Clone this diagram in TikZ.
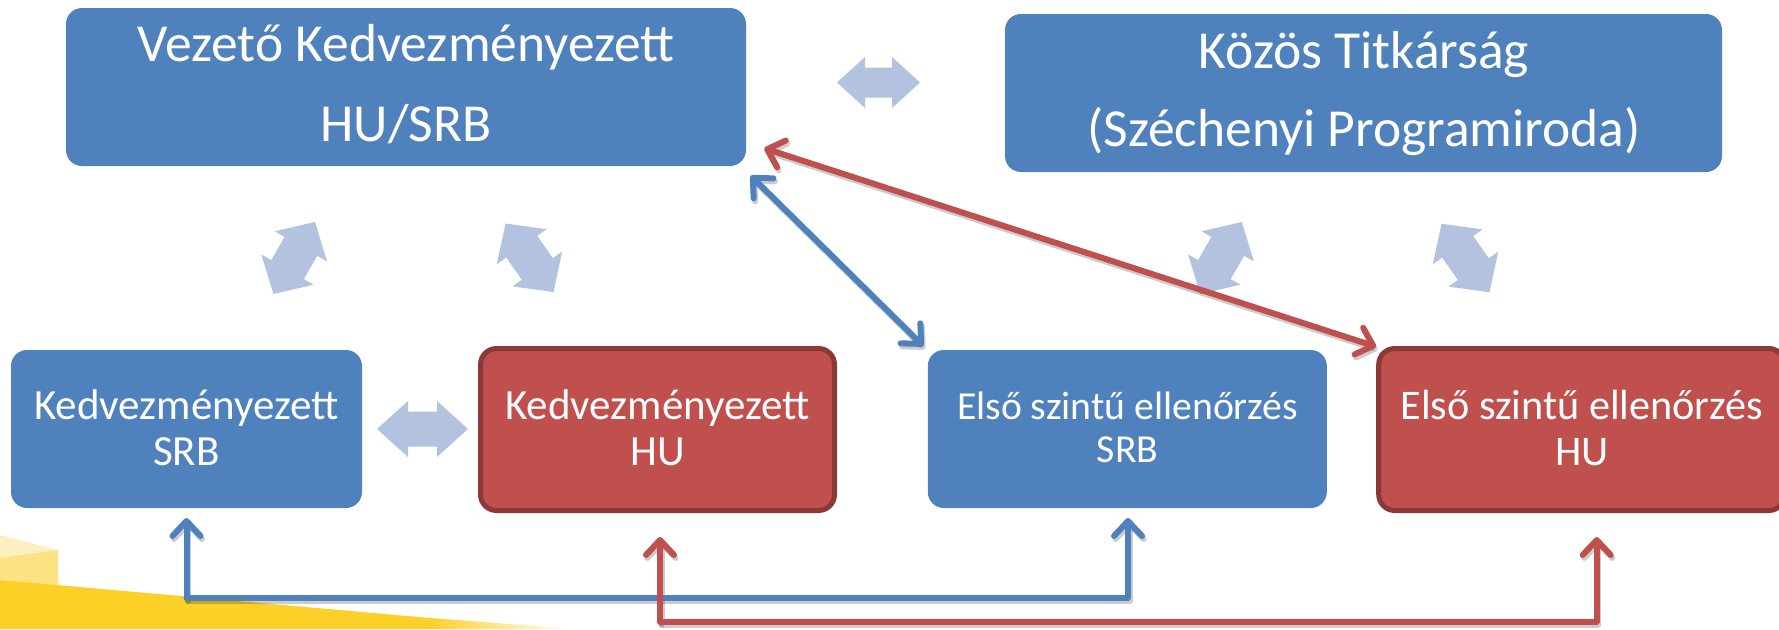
\documentclass[tikz,border=0pt]{standalone}
\usepackage{fontspec}
\setmainfont{Carlito}
\usetikzlibrary{arrows.meta}
\definecolor{boxblue}{RGB}{79,129,189}
\definecolor{boxred}{RGB}{192,80,77}
\definecolor{redborder}{RGB}{140,56,54}
\definecolor{paleblue}{RGB}{179,194,222}
\definecolor{gold}{RGB}{253,208,40}
\definecolor{paleyel}{RGB}{252,226,130}
\definecolor{paleryel}{RGB}{253,240,192}
\newcommand\dblarr[7]{%
  \fill[paleblue,shift={(#1,#2)},rotate=#3]
    (-#4,0) -- (-#4+#7,-#5) -- (-#4+#7,-#6) -- (#4-#7,-#6) -- (#4-#7,-#5) --
    (#4,0) -- (#4-#7,#5) -- (#4-#7,#6) -- (-#4+#7,#6) -- (-#4+#7,#5) -- cycle;}
\begin{document}
\begin{tikzpicture}[x=1pt,y=-1pt,
  bluebox/.style={fill=boxblue, rounded corners=16pt, inner sep=0pt, outer sep=0pt, minimum height=158pt},
  redbox/.style={fill=boxred, draw=redborder, line width=5pt, rounded corners=16pt, inner sep=0pt, outer sep=0pt, minimum height=162pt},
  bigtxt/.style={text=white, font=\fontsize{53.5}{60}\selectfont, anchor=base, inner sep=0pt},
  midtxt/.style={text=white, font=\fontsize{43}{50}\selectfont, anchor=base, inner sep=0pt},
  redtxt/.style={text=white, font=\fontsize{42.2}{50}\selectfont, anchor=base, inner sep=0pt},
  smtxt/.style={text=white, font=\fontsize{39.7}{48}\selectfont, anchor=base, inner sep=0pt},
  conn/.style={line width=6pt, line cap=round, line join=round, {Straight Barb[length=15pt,width=28pt,line cap=round,line join=round]}-{Straight Barb[length=15pt,width=28pt,line cap=round,line join=round]}},
  conn1/.style={line width=6pt, line cap=round, line join=round, -{Straight Barb[length=15pt,width=28pt,line cap=round,line join=round]}},
  shad/.style={draw=black, opacity=0.2, transform canvas={shift={(1.5pt,-3pt)}}},
]
\useasboundingbox (0,0) rectangle (1779,629);
\clip (0,0) rectangle (1779,629);
\fill[white] (0,0) rectangle (1779,629);

% background yellow swoosh
\fill[paleryel] (0,535) -- (58,550) -- (0,558) -- cycle;
\fill[paleyel] (0,558) -- (58,550) -- (58,586) -- (0,580) -- cycle;
\fill[gold] (0,580) -- (430,618) -- (430,629) -- (0,629) -- cycle;
\shade[left color=gold, right color=white] (429,617.9) -- (575,629) -- (429,629) -- cycle;

% boxes
\node[bluebox, minimum width=680pt] (vk) at (406,87) {};
\node[bluebox, minimum width=717pt] (kt) at (1363.5,93) {};
\node[bluebox, minimum width=351pt] (ksrb) at (186.5,429) {};
\node[redbox, minimum width=354pt] (khu) at (657.5,429.5) {};
\node[bluebox, minimum width=399pt] (esrb) at (1127.3,429) {};
\node[redbox, minimum width=406pt] (ehu) at (1581.7,429.5) {};

% texts
\node[bigtxt] (vk1) at (406,61.7) {Vezető Kedvezményezett};
\node[bigtxt] (vk2) at (406,141.7) {HU/SRB};
\node[bigtxt] (kt1) at (1364,68.3) {Közös Titkárság};
\node[bigtxt] (kt2) at (1364,146.7) {(Széchenyi Programiroda)};
\node[midtxt] (ks1) at (186.5,419) {Kedvezményezett};
\node[midtxt] (ks2) at (186.5,465) {SRB};
\node[midtxt] (kh1) at (657.5,419) {Kedvezményezett};
\node[midtxt] (kh2) at (657.5,465) {HU};
\node[smtxt] (es1) at (1127.5,419) {Első szintű ellenőrzés};
\node[smtxt] (es2) at (1127.5,462.7) {SRB};
\node[redtxt] (eh1) at (1581.7,419) {Első szintű ellenőrzés};
\node[redtxt] (eh2) at (1581.7,465) {HU};

% pale double arrows
\dblarr{878.5}{82.5}{0}{41.5}{25.5}{15}{28}
\dblarr{422.5}{429}{0}{45.5}{28}{17.5}{31}
\dblarr{294.2}{258}{60}{41.6}{30.2}{18.9}{28.2}
\dblarr{529.5}{257.8}{125}{41.8}{30.4}{18.9}{28.2}
\dblarr{1221}{258}{60}{41.6}{30.2}{18.9}{28.2}
\dblarr{1465.5}{258}{125}{41.8}{30.4}{18.9}{28.2}

% connector end points
\coordinate (bd1) at (750.7,175.7);
\coordinate (bd2) at (923.3,346);
\coordinate (rd1) at (764.3,148.3);
\coordinate (rd2) at (1376,346.7);
\coordinate (bb1) at (186.5,518);
\coordinate (bb2) at (1128,518);
\coordinate (bbl) at (186.5,598);
\coordinate (bbr) at (1128,598);
\coordinate (rb1) at (660,537);
\coordinate (rb2) at (1596.7,537);
\coordinate (rbl) at (660,621.5);
\coordinate (rbr) at (1596.7,621.5);

% shadows
\draw[conn,shad] (bd1) -- (bd2);
\draw[conn,shad] (rd1) -- (rd2);
\draw[conn1,shad] (bbl) -- (bb1);
\draw[conn1,shad] (bbl) -- (bbr) -- (bb2);
\draw[conn1,shad] (rbl) -- (rb1);
\draw[conn1,shad] (rbl) -- (rbr) -- (rb2);

% connectors
\draw[conn, draw=boxblue] (bd1) -- (bd2);
\draw[conn, draw=boxred] (rd1) -- (rd2);
\draw[conn1, draw=boxblue] (bbl) -- (bb1);
\draw[conn1, draw=boxblue] (bbl) -- (bbr) -- (bb2);
\draw[conn1, draw=boxred] (rbl) -- (rb1);
\draw[conn1, draw=boxred] (rbl) -- (rbr) -- (rb2);
\end{tikzpicture}
\end{document}
